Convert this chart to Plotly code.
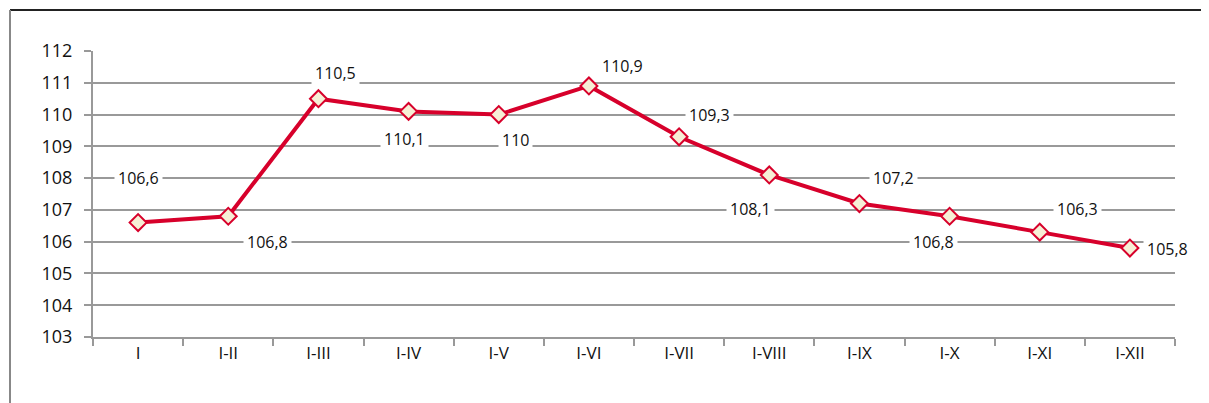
import plotly.graph_objects as go

categories = ["I", "I-II", "I-III", "I-IV", "I-V", "I-VI", "I-VII", "I-VIII", "I-IX", "I-X", "I-XI", "I-XII"]
values = [106.6, 106.8, 110.5, 110.1, 110.0, 110.9, 109.3, 108.1, 107.2, 106.8, 106.3, 105.8]
labels = ["106,6", "106,8", "110,5", "110,1", "110", "110,9", "109,3", "108,1", "107,2", "106,8", "106,3", "105,8"]
y_ticks = [103, 104, 105, 106, 107, 108, 109, 110, 111, 112]

# label offsets (pixels) relative to each point
offsets = [(0, 45), (39, -26), (17, 26), (-4, -28), (17, -25), (34, 20), (30, 22), (-19, -34), (34, 26), (-16, -26), (38, 23), (38, -1)]

L, T, W, H = 85, 43, 1082, 286
fx = lambda px: (px - L) / W
fy = lambda py: 1 - (py - T) / H

fig = go.Figure()
fig.add_trace(go.Scatter(
    x=categories, y=values, mode="lines+markers",
    line=dict(color="#d7002b", width=4),
    marker=dict(symbol="diamond", size=13, color="#f6efd6", line=dict(color="#d7002b", width=2)),
    hoverinfo="skip", showlegend=False,
))

for c, v, t, (dx, dy) in zip(categories, values, labels, offsets):
    fig.add_annotation(x=c, y=v, text=t, showarrow=False, xshift=dx, yshift=dy,
                       bgcolor="white", borderpad=3,
                       font=dict(family="Open Sans, sans-serif", size=16, color="#111"))

# frame
fig.add_shape(type="line", xref="paper", yref="paper", x0=fx(2), x1=fx(1300), y0=fy(2), y1=fy(2),
              line=dict(color="#222", width=2))
fig.add_shape(type="line", xref="paper", yref="paper", x0=fx(2), x1=fx(2), y0=fy(2), y1=fy(500),
              line=dict(color="#888", width=2))

fig.update_layout(
    width=1209, height=403,
    margin=dict(l=L, r=1209 - L - W, t=T, b=403 - T - H),
    paper_bgcolor="white", plot_bgcolor="white",
    font=dict(family="Open Sans, sans-serif", size=18, color="#111"),
)
fig.update_xaxes(
    type="category", tickson="boundaries", ticks="outside", ticklen=7, tickwidth=2, tickcolor="#999",
    showline=True, linecolor="#999", linewidth=2, showgrid=False,
    tickfont=dict(size=17), range=[-0.5, 11.5],
)
fig.update_yaxes(
    range=[103, 112], tickvals=y_ticks, ticks="outside", ticklen=7, tickwidth=2, tickcolor="#999",
    showline=True, linecolor="#999", linewidth=2,
    showgrid=True, gridcolor="#999", gridwidth=2, zeroline=False,
    tickfont=dict(size=18), ticklabelstandoff=8,
)

fig.write_html("out.html")
